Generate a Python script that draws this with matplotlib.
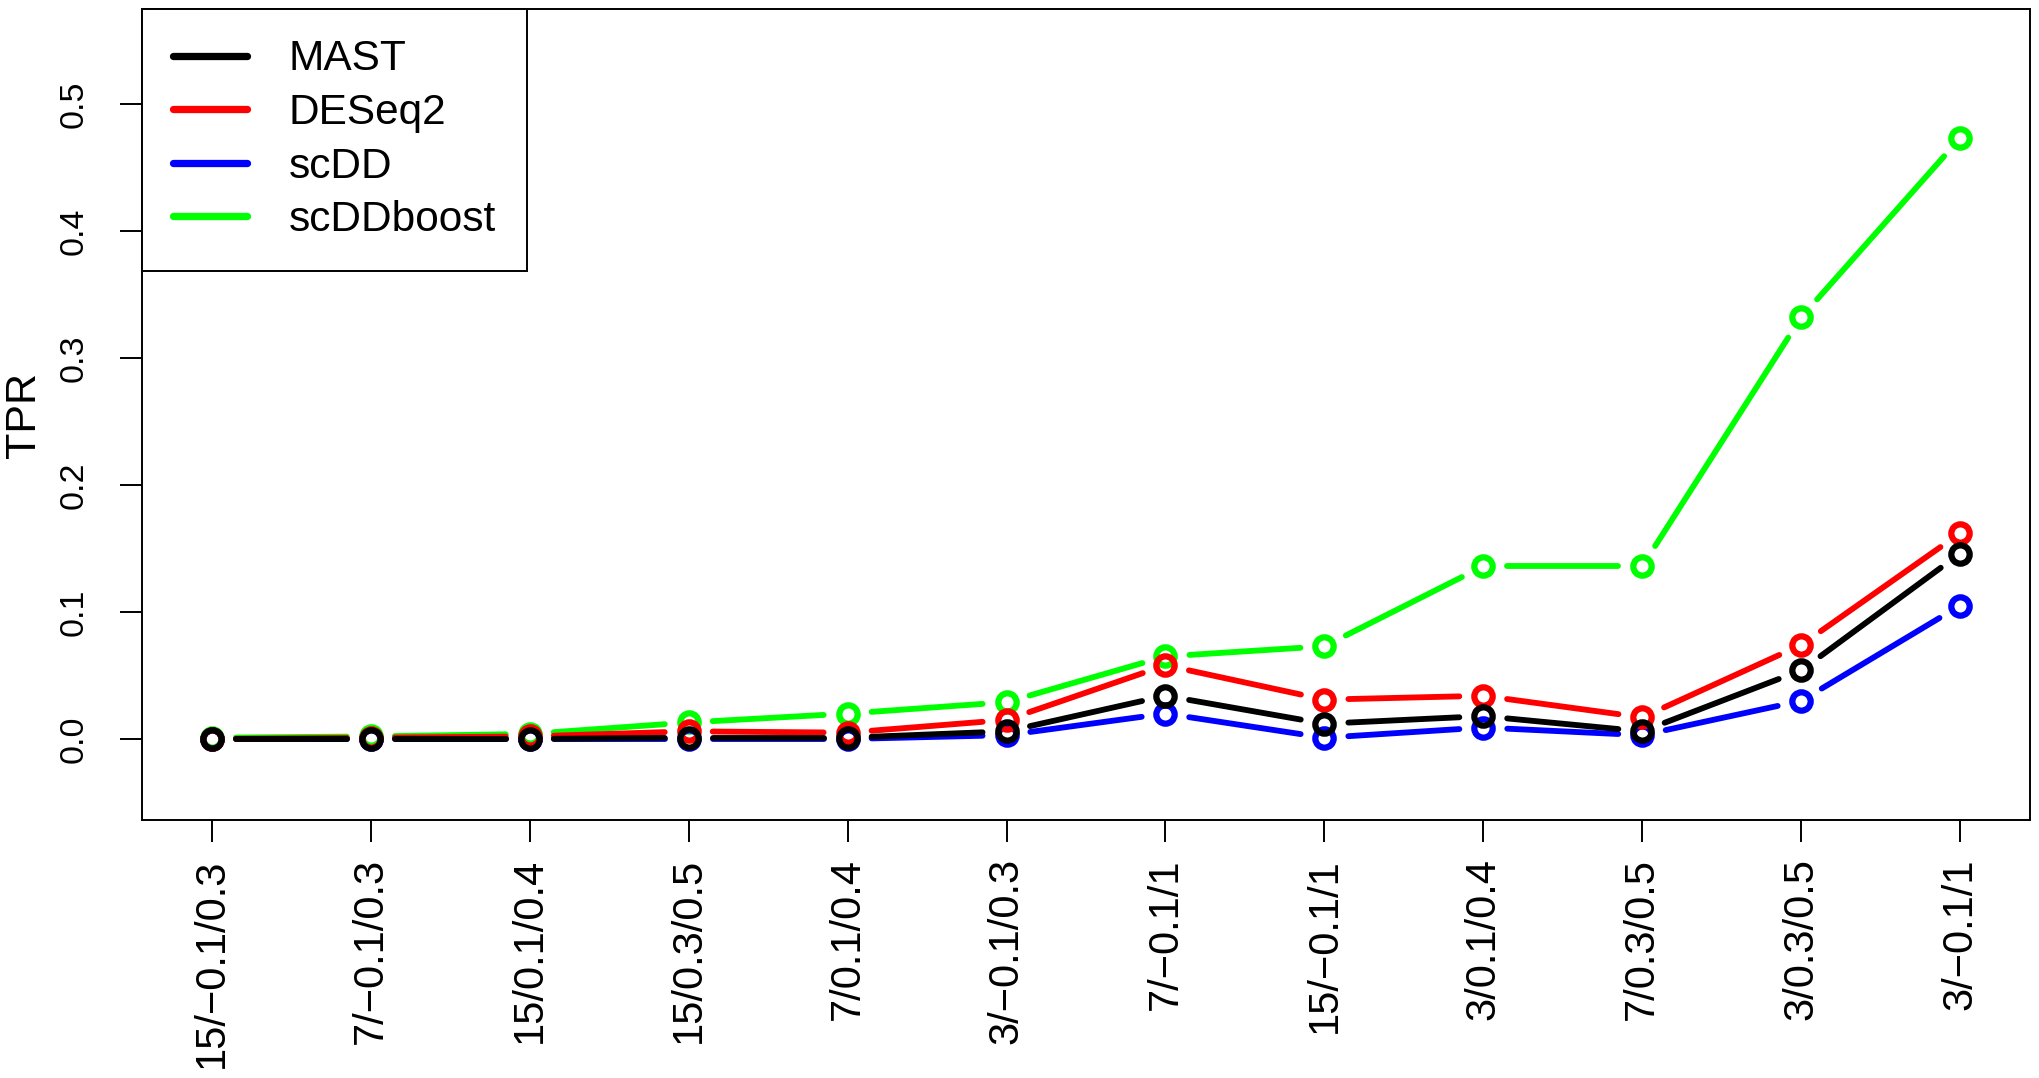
import matplotlib
matplotlib.use("Agg")
from matplotlib import pyplot as plt
from matplotlib.lines import Line2D
import numpy as np

# settings (labels read bottom to top on the x axis)
settings = ["15/−0.1/0.3", "7/−0.1/0.3", "15/0.1/0.4", "15/0.3/0.5", "7/0.1/0.4",
            "3/−0.1/0.3", "7/−0.1/1", "15/−0.1/1", "3/0.1/0.4", "7/0.3/0.5",
            "3/0.3/0.5", "3/−0.1/1"]

# TPR per method
mast = [0.000, 0.000, 0.000, 0.001, 0.001, 0.006, 0.034, 0.012, 0.018, 0.006, 0.054, 0.146]
deseq2 = [0.000, 0.001, 0.002, 0.006, 0.005, 0.015, 0.058, 0.031, 0.034, 0.017, 0.074, 0.162]
scdd = [0.000, 0.000, 0.000, 0.000, 0.000, 0.003, 0.020, 0.001, 0.009, 0.003, 0.030, 0.105]
scddboost = [0.001, 0.002, 0.004, 0.013, 0.020, 0.029, 0.065, 0.073, 0.136, 0.136, 0.332, 0.473]

yticks = [0.0, 0.1, 0.2, 0.3, 0.4, 0.5]

plt.rcParams['font.family'] = ['Liberation Sans', 'DejaVu Sans']

fig = plt.figure(figsize=(20.4, 10.78), dpi=100)
ax = fig.add_axes([142 / 2040, 1 - 820 / 1078, 1888 / 2040, 811 / 1078])
ax.set_xlim(0.56, 12.44)
ax.set_ylim(-0.0638, 0.5748)

xs = list(range(1, len(settings) + 1))

# drawn bottom to top, like the R type="b" plot
series = [
    ("scDDboost", scddboost, "#00FF00", 2),
    ("scDD", scdd, "#0000FF", 3),
    ("DESeq2", deseq2, "#FF0000", 4),
    ("MAST", mast, "#000000", 5),
]

line_width = 4.2
gap_px = 24  # pixels from a circle centre to where the line starts

inv = ax.transData.inverted()
for name, vals, col, z in series:
    pts = ax.transData.transform(np.column_stack([xs, vals]))
    for i in range(len(xs) - 1):
        p0, p1 = pts[i], pts[i + 1]
        d = p1 - p0
        n = np.hypot(d[0], d[1])
        if n <= 2 * gap_px:
            continue
        u = d / n
        seg = inv.transform(np.array([p0 + u * gap_px, p1 - u * gap_px]))
        ax.plot(seg[:, 0], seg[:, 1], color=col, lw=line_width,
                solid_capstyle="round", zorder=z)
    ax.plot(xs, vals, "o", ms=13.2, mfc="none", mec=col, mew=4.5, zorder=z)

ax.set_xticks(xs)
ax.set_xticklabels(settings, rotation=90, fontsize=30)
ax.set_yticks(yticks)
ax.set_yticklabels(["%.1f" % v for v in yticks], fontsize=24.5)
plt.setp(ax.get_yticklabels(), rotation=90, va="center")
ax.tick_params(axis="x", direction="out", length=16, width=1.4, pad=11.5)
ax.tick_params(axis="y", direction="out", length=16, width=1.4, pad=21.6)
for sp in ax.spines.values():
    sp.set_linewidth(1.4)

fig.text(24 / 2040, 1 - 414.5 / 1078, "TPR", rotation=90, ha="center", va="center",
         fontsize=31)

# legend: MAST, DESeq2, scDD, scDDboost
handles = [Line2D([], [], color=col, lw=line_width * 1.25, solid_capstyle="round")
           for name, vals, col, z in series[::-1]]
names = [name for name, vals, col, z in series[::-1]]
leg = ax.legend(handles, names, loc="upper left", bbox_to_anchor=(0, 1),
                borderaxespad=0, fontsize=30.5, fancybox=False, framealpha=1,
                edgecolor="black", borderpad=0.72, labelspacing=0.32,
                handlelength=1.75, handletextpad=1.0)
leg.get_frame().set_linewidth(1.4)

fig.savefig("out.png", dpi=100)
